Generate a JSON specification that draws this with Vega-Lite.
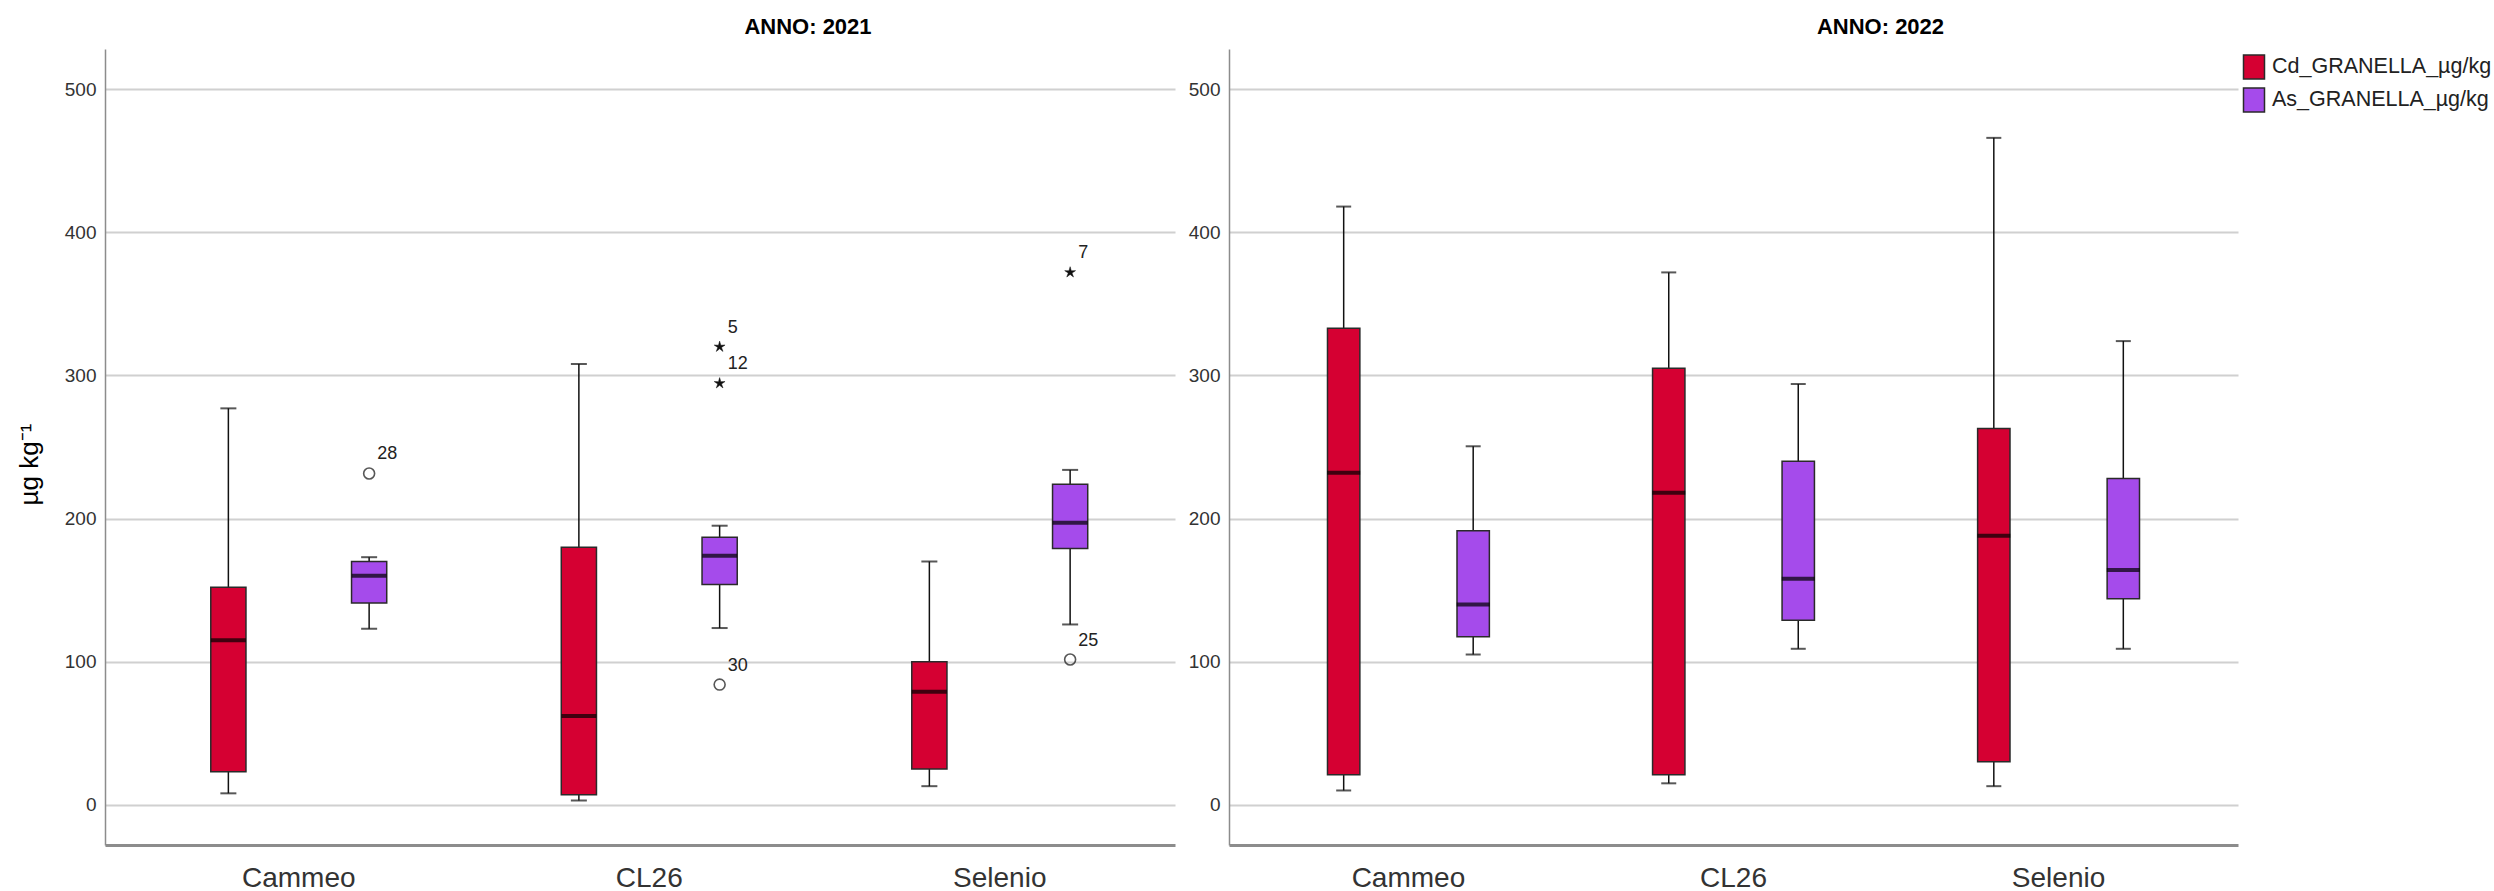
{
  "$schema": "https://vega.github.io/schema/vega-lite/v6.json",
  "padding": {"left": 16, "top": 16, "right": 0, "bottom": 0},
  "background": "white",
  "config": {
    "view": {"stroke": null},
    "font": "Liberation Sans",
    "title": {"font": "Liberation Sans", "fontSize": 22, "fontWeight": "bold", "color": "#000000", "offset": 10},
    "axis": {"labelFont": "Liberation Sans", "titleFont": "Liberation Sans"}
  },
  "datasets": {
    "boxes": [
      {"anno": 2021, "variety": "Cammeo", "variable": "Cd_GRANELLA_µg/kg", "lower": 8, "q1": 23, "median": 115, "q3": 152, "upper": 277},
      {"anno": 2021, "variety": "Cammeo", "variable": "As_GRANELLA_µg/kg", "lower": 123, "q1": 141, "median": 160, "q3": 170, "upper": 173},
      {"anno": 2021, "variety": "CL26", "variable": "Cd_GRANELLA_µg/kg", "lower": 3, "q1": 7, "median": 62, "q3": 180, "upper": 308},
      {"anno": 2021, "variety": "CL26", "variable": "As_GRANELLA_µg/kg", "lower": 123.5, "q1": 154, "median": 174, "q3": 187, "upper": 195},
      {"anno": 2021, "variety": "Selenio", "variable": "Cd_GRANELLA_µg/kg", "lower": 13, "q1": 25, "median": 79, "q3": 100, "upper": 170},
      {"anno": 2021, "variety": "Selenio", "variable": "As_GRANELLA_µg/kg", "lower": 126, "q1": 179, "median": 197, "q3": 224, "upper": 234},
      {"anno": 2022, "variety": "Cammeo", "variable": "Cd_GRANELLA_µg/kg", "lower": 10, "q1": 21, "median": 232, "q3": 333, "upper": 418},
      {"anno": 2022, "variety": "Cammeo", "variable": "As_GRANELLA_µg/kg", "lower": 105, "q1": 117.5, "median": 140, "q3": 191.5, "upper": 250.5},
      {"anno": 2022, "variety": "CL26", "variable": "Cd_GRANELLA_µg/kg", "lower": 15, "q1": 21, "median": 218, "q3": 305, "upper": 372},
      {"anno": 2022, "variety": "CL26", "variable": "As_GRANELLA_µg/kg", "lower": 109, "q1": 129, "median": 158, "q3": 240, "upper": 294},
      {"anno": 2022, "variety": "Selenio", "variable": "Cd_GRANELLA_µg/kg", "lower": 13, "q1": 30, "median": 188, "q3": 263, "upper": 466},
      {"anno": 2022, "variety": "Selenio", "variable": "As_GRANELLA_µg/kg", "lower": 109, "q1": 144, "median": 164, "q3": 228, "upper": 324}
    ],
    "outliers": [
      {"anno": 2021, "variety": "Cammeo", "variable": "As_GRANELLA_µg/kg", "value": 231.5, "kind": "circle", "label": "28"},
      {"anno": 2021, "variety": "CL26", "variable": "As_GRANELLA_µg/kg", "value": 320, "kind": "star", "label": "5"},
      {"anno": 2021, "variety": "CL26", "variable": "As_GRANELLA_µg/kg", "value": 294.5, "kind": "star", "label": "12"},
      {"anno": 2021, "variety": "CL26", "variable": "As_GRANELLA_µg/kg", "value": 84, "kind": "circle", "label": "30"},
      {"anno": 2021, "variety": "Selenio", "variable": "As_GRANELLA_µg/kg", "value": 372, "kind": "star", "label": "7"},
      {"anno": 2021, "variety": "Selenio", "variable": "As_GRANELLA_µg/kg", "value": 101.5, "kind": "circle", "label": "25"}
    ]
  },
  "resolve": {"scale": {"x": "independent", "xOffset": "independent", "y": "independent", "color": "shared"}},
  "spacing": 13,
  "hconcat": [
    {
      "width": 1070,
      "height": 796,
      "title": {"text": "ANNO: 2021", "dx": 168},
      "encoding": {
        "x": {"field": "variety", "type": "nominal", "sort": ["Cammeo", "CL26", "Selenio"],
              "scale": {"paddingInner": 0, "paddingOuter": 0.0264, "align": 1},
              "axis": {"title": null, "labelAngle": 0, "ticks": false, "domainColor": "#8c8c8c", "domainWidth": 3, "labelFontSize": 28, "labelColor": "#333333", "labelPadding": 19, "grid": false}},
        "xOffset": {"field": "variable", "type": "nominal", "sort": ["Cd_GRANELLA_µg/kg", "As_GRANELLA_µg/kg"],
                    "scale": {"paddingInner": 0.75, "paddingOuter": 0.62}}
      },
      "layer": [
        {
          "data": {"name": "boxes"},
          "transform": [{"filter": "datum.anno == 2021"}],
          "mark": {"type": "rule", "color": "#111111", "strokeWidth": 1.5},
          "encoding": {
            "y": {"field": "lower", "type": "quantitative", "scale": {"domain": [-28.1, 528.1], "nice": false, "zero": false},
                  "axis": {"values": [0, 100, 200, 300, 400, 500], "grid": true, "gridColor": "#d0d0d0", "gridWidth": 2, "domainColor": "#8c8c8c", "domainWidth": 1.5, "ticks": false, "labelFontSize": 19, "labelColor": "#333333", "labelPadding": 9, "title": "µg kg⁻¹", "titleFontSize": 26, "titleFontWeight": "normal", "titleColor": "#000000", "titlePadding": 22, "titleY": 415}},
            "y2": {"field": "upper"}
          }
        },
        {
          "data": {"name": "boxes"},
          "transform": [{"filter": "datum.anno == 2021"}],
          "mark": {"type": "bar", "stroke": "#2a2a2a", "strokeWidth": 1.5, "opacity": 1},
          "encoding": {
            "y": {"field": "q1", "type": "quantitative"},
            "y2": {"field": "q3"},
            "color": {"field": "variable", "type": "nominal",
                      "scale": {"domain": ["Cd_GRANELLA_µg/kg", "As_GRANELLA_µg/kg"], "range": ["#D50032", "#A54BEB"]},
                      "legend": {"title": null, "orient": "none", "legendX": 2136, "legendY": 5, "symbolType": "M-0.875,-1H0.875V1H-0.875Z", "symbolSize": 576, "symbolStrokeColor": "#2a2a2a", "symbolStrokeWidth": 1.5, "symbolOpacity": 1, "labelFontSize": 21.5, "labelColor": "#222222", "labelOffset": 5, "labelLimit": 0, "rowPadding": 3, "padding": 0}}
          }
        },
        {
          "data": {"name": "boxes"},
          "transform": [{"filter": "datum.anno == 2021"}],
          "mark": {"type": "tick", "color": "#111111", "size": 16, "thickness": 2},
          "encoding": {"y": {"field": "lower", "type": "quantitative"}}
        },
        {
          "data": {"name": "boxes"},
          "transform": [{"filter": "datum.anno == 2021"}],
          "mark": {"type": "tick", "color": "#111111", "size": 16, "thickness": 2},
          "encoding": {"y": {"field": "upper", "type": "quantitative"}}
        },
        {
          "data": {"name": "boxes"},
          "transform": [{"filter": "datum.anno == 2021"}],
          "mark": {"type": "tick", "color": "#000000", "size": 35, "thickness": 4},
          "encoding": {"y": {"field": "median", "type": "quantitative"}}
        },
        {
          "data": {"name": "outliers"},
          "transform": [{"filter": "datum.anno == 2021 && datum.kind == 'circle'"}],
          "mark": {"type": "point", "shape": "circle", "filled": false, "stroke": "#111111", "strokeWidth": 1.6, "size": 120},
          "encoding": {"y": {"field": "value", "type": "quantitative"}}
        },
        {
          "data": {"name": "outliers"},
          "transform": [{"filter": "datum.anno == 2021 && datum.kind == 'star'"}],
          "mark": {"type": "point", "shape": "M0,-1L0.2,-0.28L0.951,-0.309L0.33,0.11L0.588,0.809L0,0.35L-0.588,0.809L-0.33,0.11L-0.951,-0.309L-0.2,-0.28Z", "filled": true, "fill": "#111111", "stroke": "#111111", "strokeWidth": 0.5, "size": 130, "opacity": 1},
          "encoding": {"y": {"field": "value", "type": "quantitative"}}
        },
        {
          "data": {"name": "outliers"},
          "transform": [{"filter": "datum.anno == 2021"}],
          "mark": {"type": "text", "align": "left", "baseline": "middle", "dx": 8, "dy": -19, "fontSize": 18, "color": "#222222"},
          "encoding": {"y": {"field": "value", "type": "quantitative"}, "text": {"field": "label"}}
        }
      ]
    },
    {
      "width": 1009,
      "height": 796,
      "title": {"text": "ANNO: 2022", "dx": 147},
      "encoding": {
        "x": {"field": "variety", "type": "nominal", "sort": ["Cammeo", "CL26", "Selenio"],
              "scale": {"paddingInner": 0, "paddingOuter": 0.052, "align": 0.5},
              "axis": {"title": null, "labelAngle": 0, "ticks": false, "domainColor": "#8c8c8c", "domainWidth": 3, "labelFontSize": 28, "labelColor": "#333333", "labelPadding": 19, "grid": false}},
        "xOffset": {"field": "variable", "type": "nominal", "sort": ["Cd_GRANELLA_µg/kg", "As_GRANELLA_µg/kg"],
                    "scale": {"paddingInner": 0.75, "paddingOuter": 0.63}}
      },
      "layer": [
        {
          "data": {"name": "boxes"},
          "transform": [{"filter": "datum.anno == 2022"}],
          "mark": {"type": "rule", "color": "#111111", "strokeWidth": 1.5},
          "encoding": {
            "y": {"field": "lower", "type": "quantitative", "scale": {"domain": [-28.1, 528.1], "nice": false, "zero": false},
                  "axis": {"values": [0, 100, 200, 300, 400, 500], "grid": true, "gridColor": "#d0d0d0", "gridWidth": 2, "domainColor": "#8c8c8c", "domainWidth": 1.5, "ticks": false, "labelFontSize": 19, "labelColor": "#333333", "labelPadding": 9, "title": null}},
            "y2": {"field": "upper"}
          }
        },
        {
          "data": {"name": "boxes"},
          "transform": [{"filter": "datum.anno == 2022"}],
          "mark": {"type": "bar", "stroke": "#2a2a2a", "strokeWidth": 1.5, "opacity": 1},
          "encoding": {
            "y": {"field": "q1", "type": "quantitative"},
            "y2": {"field": "q3"},
            "color": {"field": "variable", "type": "nominal",
                      "scale": {"domain": ["Cd_GRANELLA_µg/kg", "As_GRANELLA_µg/kg"], "range": ["#D50032", "#A54BEB"]}}
          }
        },
        {
          "data": {"name": "boxes"},
          "transform": [{"filter": "datum.anno == 2022"}],
          "mark": {"type": "tick", "color": "#111111", "size": 15, "thickness": 2},
          "encoding": {"y": {"field": "lower", "type": "quantitative"}}
        },
        {
          "data": {"name": "boxes"},
          "transform": [{"filter": "datum.anno == 2022"}],
          "mark": {"type": "tick", "color": "#111111", "size": 15, "thickness": 2},
          "encoding": {"y": {"field": "upper", "type": "quantitative"}}
        },
        {
          "data": {"name": "boxes"},
          "transform": [{"filter": "datum.anno == 2022"}],
          "mark": {"type": "tick", "color": "#000000", "size": 33, "thickness": 4},
          "encoding": {"y": {"field": "median", "type": "quantitative"}}
        }
      ]
    }
  ]
}
